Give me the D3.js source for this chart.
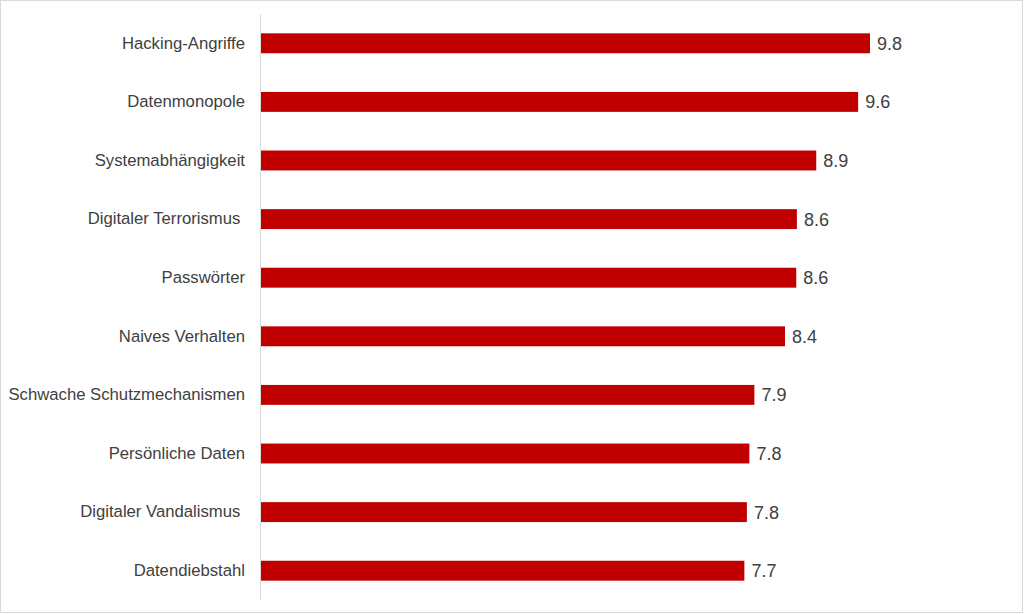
<!DOCTYPE html>
<html><head><meta charset="utf-8">
<script src="https://cdn.jsdelivr.net/npm/d3@7"></script>
<style>body{margin:0;background:#fff}svg{display:block}</style>
</head><body>
<svg id="chart" width="1024" height="614"></svg>
<script>
const categories = ["Hacking-Angriffe","Datenmonopole","Systemabhängigkeit","Digitaler Terrorismus ","Passwörter","Naives Verhalten","Schwache Schutzmechanismen","Persönliche Daten","Digitaler Vandalismus ","Datendiebstahl"];
const values = [9.76, 9.57, 8.9, 8.59, 8.58, 8.40, 7.91, 7.83, 7.79, 7.75];
const valueLabels = ["9.8","9.6","8.9","8.6","8.6","8.4","7.9","7.8","7.8","7.7"];

const svg = d3.select("#chart");
svg.append("rect").attr("x",0.5).attr("y",0.5).attr("width",1022).attr("height",612)
  .attr("fill","#fff").attr("stroke","#d9d9d9");

const x = d3.scaleLinear().domain([0,12]).range([260,1010]);
const y = d3.scaleBand().domain(categories).range([14,600]).paddingInner(0.66).paddingOuter(0.33);

const data = categories.map((c,i)=>({c, v:values[i], l:valueLabels[i]}));

svg.selectAll("rect.bar").data(data).join("rect").attr("class","bar")
  .attr("x",x(0)+1).attr("y",d=>y(d.c)).attr("width",d=>x(d.v)-x(0)-1)
  .attr("height",y.bandwidth()).attr("fill","#c00000");

const yAxis = d3.axisLeft(y).tickSize(0).tickPadding(15);
const g = svg.append("g").attr("transform",`translate(${x(0)},0)`).call(yAxis);
g.select(".domain").attr("stroke","#d9d9d9").attr("d",`M0.5,14V600`);
g.selectAll("text").attr("font-family","Liberation Sans, Arial, sans-serif")
  .attr("font-size",16.7).attr("fill","#404040").style("white-space","pre");

svg.selectAll("text.val").data(data).join("text").attr("class","val")
  .attr("x",d=>x(d.v)+7).attr("y",d=>y(d.c)+y.bandwidth()/2).attr("dy","0.36em")
  .attr("font-family","Liberation Sans, Arial, sans-serif").attr("font-size",18)
  .attr("fill","#404040").text(d=>d.l);
</script>
</body></html>
